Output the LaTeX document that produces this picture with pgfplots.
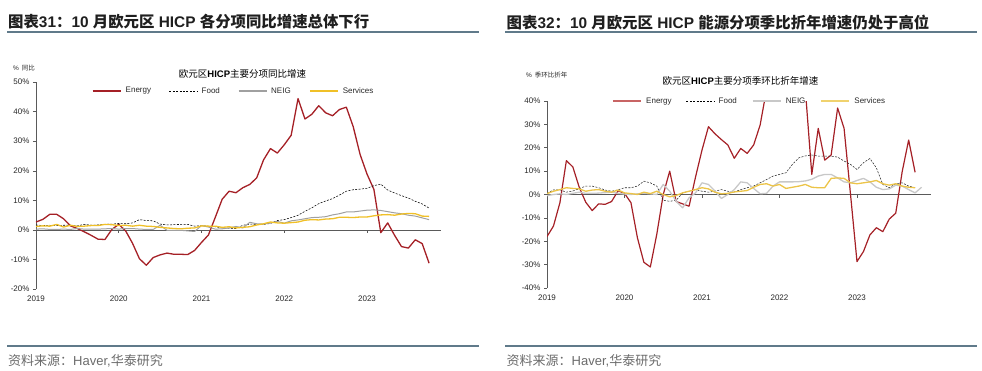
\documentclass[border=0pt]{standalone}
\usepackage{fontspec}
\usepackage{pgfplots}
\usepackage{pgfplotstable}
\pgfplotsset{compat=1.18}
\setmainfont{Liberation Sans}
\newfontfamily\cjk{Noto Sans CJK SC}
\definecolor{energy}{RGB}{165,32,38}
\definecolor{energyLg}{RGB}{200,100,100}
\definecolor{neigL}{RGB}{160,160,160}
\definecolor{neigR}{RGB}{200,200,200}
\definecolor{serv}{RGB}{240,192,40}
\definecolor{servR}{RGB}{236,196,72}
\definecolor{servLg}{RGB}{240,210,110}
\definecolor{rulec}{RGB}{96,122,138}
\definecolor{axc}{RGB}{90,90,90}
\definecolor{tickc}{RGB}{40,40,40}

\pgfplotstableread{
m E F N S
0 2.7 1.7 0.3 1.2
1 3.6 1.5 0.4 1.4
2 5.3 1.6 0.2 1.3
3 5.3 1.5 0.2 1.9
4 3.8 1.6 0.3 1.0
5 1.4 1.6 0.2 1.6
6 0.5 1.4 0.5 1.2
7 -0.6 1.9 0.3 1.3
8 -1.8 1.6 0.3 1.5
9 -3.1 1.7 0.3 1.5
10 -3.2 1.9 0.4 1.9
11 0.2 2.0 0.5 1.8
12 1.9 2.2 0.3 1.5
13 -0.3 2.1 0.5 1.6
14 -4.5 2.4 0.5 1.3
15 -9.7 3.5 0.3 1.6
16 -11.9 3.2 0.2 1.3
17 -9.3 3.1 0.2 1.2
18 -8.4 2.0 1.6 0.9
19 -7.8 1.7 -0.1 0.7
20 -8.2 1.8 -0.1 0.5
21 -8.2 1.9 -0.1 0.4
22 -8.3 1.9 -0.3 0.6
23 -6.9 1.3 -0.5 0.7
24 -4.2 1.5 1.5 1.4
25 -1.7 1.3 1.0 1.3
26 4.3 1.1 0.3 1.3
27 10.4 0.7 0.4 0.9
28 13.1 0.6 0.7 1.1
29 12.6 0.5 1.2 0.7
30 14.3 1.6 0.7 0.9
31 15.4 2.0 2.6 1.1
32 17.6 1.9 2.1 1.7
33 23.7 1.9 2.0 2.1
34 27.5 2.2 2.4 2.7
35 26.0 3.2 2.9 2.4
36 28.8 3.5 2.3 2.3
37 32.0 4.2 3.1 2.5
38 44.4 5.0 3.4 2.7
39 37.5 6.3 3.8 3.3
40 39.1 7.5 4.2 3.5
41 42.0 8.9 4.3 3.4
42 39.6 9.8 4.5 3.7
43 38.6 10.6 5.1 3.8
44 40.7 11.8 5.5 4.3
45 41.5 13.1 6.1 4.3
46 34.9 13.6 6.1 4.2
47 25.5 13.8 6.4 4.4
48 18.9 14.1 6.7 4.4
49 13.7 15.0 6.8 4.8
50 -0.9 15.5 6.6 5.1
51 2.4 13.5 6.2 5.2
52 -1.8 12.5 5.8 5.0
53 -5.6 11.6 5.5 5.4
54 -6.1 10.8 5.0 5.6
55 -3.3 9.7 4.7 5.5
56 -4.6 8.8 4.1 4.7
57 -11.2 7.4 3.5 4.6
}\yoydata

\pgfplotstableread{
m E F N S
0 -18 0.4 -0.5 0.4
1 -13.5 2 0 1.4
2 -3.5 2 0.3 2.1
3 14.5 1 0 2.9
4 11.8 1.5 0.5 2.6
5 3 2.5 1 2.4
6 -3.3 3.6 0.5 1.4
7 -6.9 3.6 0.5 1.9
8 -4 2.9 0.6 2.1
9 -4.2 1.9 0.8 1.4
10 -3 1.4 1 1
11 1.6 2 0.5 1.9
12 0.5 2.9 0.2 0.7
13 -3.5 2.9 0 0.4
14 -18.5 3.6 0.3 0
15 -29 5.7 0.5 1
16 -31 5 0.3 0.4
17 -17 3.6 0 1.4
18 0 -2.5 4.3 0
19 10 -2.9 1.4 -1
20 -3 -2.5 -2.9 -0.4
21 -4 0.7 -5.7 0.7
22 -5 1.4 -1.4 1.4
23 7.5 2.1 0.7 2.1
24 19 1.4 5 2.9
25 29 1 4.3 2.4
26 26 1.4 1.5 1
27 23.5 2.1 -1.7 0.3
28 21.2 1.4 0 0.5
29 15.5 1.1 2.1 1.1
30 19.7 2.1 5.4 1.4
31 17.6 2.9 5 1.7
32 21.2 3.6 2.6 3.1
33 29.7 5 0.3 4.3
34 45 6.4 0.5 4.6
35 60 7.9 3.6 3.6
36 70 8.6 5.4 4.3
37 90 9.3 5.4 2.6
38 75 12.9 5.4 3.1
39 60 15.7 5.5 3.6
40 45 16.5 5.8 4.3
41 8.6 16.9 6.5 3.1
42 28.3 16.4 7.9 2.9
43 14.7 16.4 8.6 2.9
44 16.9 16.4 8.6 6.9
45 37 16 7.1 7.1
46 28.3 14.3 5.4 6.9
47 0 12.9 5 5
48 -28.7 10.7 6 4.6
49 -24.4 13.6 6.9 5
50 -17.3 15.4 5.4 5.4
51 -14.2 11.4 3.1 6
52 -15.9 4.3 2.1 4.6
53 -10.5 2.9 2.4 4
54 -8 4.6 4 4.6
55 9.8 5 3.6 3.6
56 23.3 3.6 2.1 3.1
57 9.5 2.9 0.7 2.9
58 nan nan 3.1 nan
}\saardata

\pgfplotsset{
  hichart/.style={
    anchor=origin,
    axis lines*=left,
    x axis line style={draw=none},
    y axis line style={axc, line width=0.7pt},
    xtick style={draw=none},
    ytick style={axc, line width=0.6pt},
    tick align=outside,
    major tick length=3pt,
    xtick={0,12,24,36,48},
    xticklabels={2019,2020,2021,2022,2023},
    tick label style={font=\fontsize{8}{9}\selectfont, text=tickc},
    /pgf/number format/assume math mode=true,
    yticklabel={\pgfmathprintnumber{\tick}\%},
    extra y ticks={0},
    extra y tick labels={},
    extra y tick style={grid=major, major grid style={axc, line width=0.8pt}, tick style={draw=none}},
    legend columns=4,
    legend cell align=left,
    legend image code/.code={\draw[##1] (0pt,0pt) -- (28pt,0pt);},
    legend style={draw=none, fill=none, inner sep=0pt, outer sep=0pt,
      font=\fontsize{8}{9}\selectfont, text=tickc, anchor=west,
      nodes={inner sep=0pt},
      /tikz/every odd column/.append style={column sep=4pt}},
    clip=true,
  }
}

\begin{document}
\begin{tikzpicture}
\path[use as bounding box] (0,0) rectangle (982pt,-370pt);

% headers
\node[anchor=base west, inner sep=0pt, text=black!88, font=\fontsize{15.4}{18}\selectfont\bfseries] at (8pt,-27.5pt)
  {{\cjk 图表}31{\cjk ：}10 {\cjk 月欧元区} HICP {\cjk 各分项同比增速总体下行}};
\node[anchor=base west, inner sep=0pt, text=black!88, font=\fontsize{15.4}{18}\selectfont\bfseries] at (506.5pt,-28pt)
  {{\cjk 图表}32{\cjk ：}10 {\cjk 月欧元区} HICP {\cjk 能源分项季比折年增速仍处于高位}};
\draw[rulec, line width=2pt] (7pt,-32pt) -- (479pt,-32pt);
\draw[rulec, line width=2pt] (505pt,-32pt) -- (977pt,-32pt);
\draw[rulec, line width=2pt] (7pt,-345.5pt) -- (479pt,-345.5pt);
\draw[rulec, line width=2pt] (505pt,-345.5pt) -- (977pt,-345.5pt);
\node[anchor=base west, inner sep=0pt, text=black!58, font=\fontsize{13}{15}\selectfont] at (8pt,-365.5pt)
  {{\cjk 资料来源：}Haver,{\cjk 华泰研究}};
\node[anchor=base west, inner sep=0pt, text=black!58, font=\fontsize{13}{15}\selectfont] at (506.5pt,-365.5pt)
  {{\cjk 资料来源：}Haver,{\cjk 华泰研究}};

% in-chart titles and unit labels
\node[inner sep=0pt, font=\fontsize{6.5}{8}\selectfont, text=tickc] at (24pt,-68pt) {\%\hspace{3pt}{\cjk 同比}};
\node[inner sep=0pt, font=\fontsize{6.5}{8}\selectfont, text=tickc] at (546.7pt,-75.5pt) {\%\hspace{3pt}{\cjk 季环比折年}};
\node[inner sep=0pt, font=\fontsize{9.5}{11}\selectfont, text=black] at (242.5pt,-73.7pt) {{\cjk 欧元区}\textbf{HICP}{\cjk 主要分项同比增速}};
\node[inner sep=0pt, font=\fontsize{9.5}{11}\selectfont, text=black] at (740.5pt,-80.7pt) {{\cjk 欧元区}\textbf{HICP}{\cjk 主要分项季环比折年增速}};

% left chart
\begin{axis}[hichart,
  at={(36pt,-230pt)}, x=6.896pt, y=2.96pt,
  xmin=0, xmax=58.8, ymin=-20, ymax=50,
  ytick={-20,-10,0,10,20,30,40,50},
  legend style={at={(0.1374,0.9566)}, /tikz/every even column/.append style={column sep=18pt}},
]
\addlegendimage{energy, line width=2pt}
\addlegendimage{black, line width=0.6pt, dash pattern=on 2pt off 1.4pt}
\addlegendimage{neigL, line width=1.3pt}
\addlegendimage{serv, line width=2pt}
\legend{Energy, Food, NEIG, Services}
\addplot[energy, line width=1.3pt, line join=round, forget plot] table[x=m, y=E] {\yoydata};
\addplot[black, line width=0.55pt, dash pattern=on 2pt off 1.4pt, forget plot] table[x=m, y=F] {\yoydata};
\addplot[neigL, line width=1pt, line join=round, forget plot] table[x=m, y=N] {\yoydata};
\addplot[serv, line width=1.3pt, line join=round, forget plot] table[x=m, y=S] {\yoydata};
\pgfplotsinvokeforeach{12,24,36,48}{\draw[axc, line width=0.6pt] (axis cs:#1,0) -- ++(0pt,-3pt);}
\end{axis}

% right chart
\begin{axis}[hichart,
  at={(547pt,-194.5pt)}, x=6.458pt, y=2.3375pt,
  xmin=0, xmax=59.4, ymin=-40, ymax=40,
  ytick={-40,-30,-20,-10,0,10,20,30,40},
  legend style={at={(0.1687,1.0)}, /tikz/every even column/.append style={column sep=14.5pt}},
]
\addlegendimage{energyLg, line width=2.5pt}
\addlegendimage{black, line width=0.6pt, dash pattern=on 2pt off 1.4pt}
\addlegendimage{neigR, line width=2.5pt}
\addlegendimage{servLg, line width=2.5pt}
\legend{Energy, Food, NEIG, Services}
\addplot[energy, line width=1.2pt, line join=round, forget plot] table[x=m, y=E] {\saardata};
\addplot[black!85, line width=0.55pt, dash pattern=on 2pt off 1.4pt, forget plot] table[x=m, y=F] {\saardata};
\addplot[neigR, line width=1.3pt, line join=round, forget plot] table[x=m, y=N] {\saardata};
\addplot[servR, line width=1.3pt, line join=round, forget plot] table[x=m, y=S] {\saardata};
\pgfplotsinvokeforeach{12,24,36,48}{\draw[axc, line width=0.6pt] (axis cs:#1,0) -- ++(0pt,-3pt);}
\end{axis}
\end{tikzpicture}
\end{document}
